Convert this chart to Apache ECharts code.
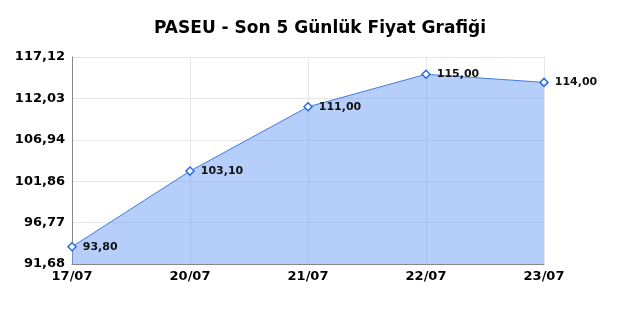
<!DOCTYPE html>
<html><head><meta charset="utf-8">
<script src="https://cdn.jsdelivr.net/npm/echarts@6/dist/echarts.min.js"></script>
<style>html,body{margin:0;padding:0;background:#fff}#c{width:640px;height:320px}</style>
</head><body><div id="c"></div>
<script>
const categories = ['17/07','20/07','21/07','22/07','23/07'];
const prices = [93.80, 103.10, 111.00, 115.00, 114.00];
const yMin = 91.68, yMax = 117.12;
const fmt = v => v.toFixed(2).replace('.', ',');
const chart = echarts.init(document.getElementById('c'));
chart.setOption({
  animation: false,
  title: { text: 'PASEU - Son 5 Günlük Fiyat Grafiği', left: 'center', top: 15,
    textStyle: { fontFamily: 'DejaVu Sans', fontSize: 17, fontWeight: 'bold', color: '#000' } },
  grid: { left: 72, right: 96, top: 57, bottom: 56 },
  xAxis: { type: 'category', data: categories, boundaryGap: false,
    axisLine: { lineStyle: { color: '#888' } }, axisTick: { show: false },
    axisLabel: { fontFamily: 'DejaVu Sans', fontSize: 13, fontWeight: 'bold', color: '#000', margin: 6 },
    splitLine: { show: true, lineStyle: { color: '#e6e6e6' } } },
  yAxis: { type: 'value', min: yMin, max: yMax, interval: (yMax - yMin) / 5,
    axisLine: { show: true, lineStyle: { color: '#888' } }, axisTick: { show: false },
    axisLabel: { fontFamily: 'DejaVu Sans', fontSize: 13, fontWeight: 'bold', color: '#000', margin: 7,
      formatter: v => fmt(v) },
    splitLine: { lineStyle: { color: '#e6e6e6' } } },
  series: [{
    type: 'line', data: prices, symbol: 'diamond', symbolSize: 8,
    itemStyle: { color: '#fff', borderColor: '#2a6ae6', borderWidth: 1.5 },
    lineStyle: { color: '#3f7ae6', width: 1 },
    areaStyle: { color: 'rgba(100,150,245,0.47)', opacity: 1 },
    label: { show: true, position: 'right', distance: 6, fontFamily: 'DejaVu Sans', fontSize: 11,
      fontWeight: 'bold', color: '#111', formatter: p => fmt(p.value) }
  }]
});
</script></body></html>
